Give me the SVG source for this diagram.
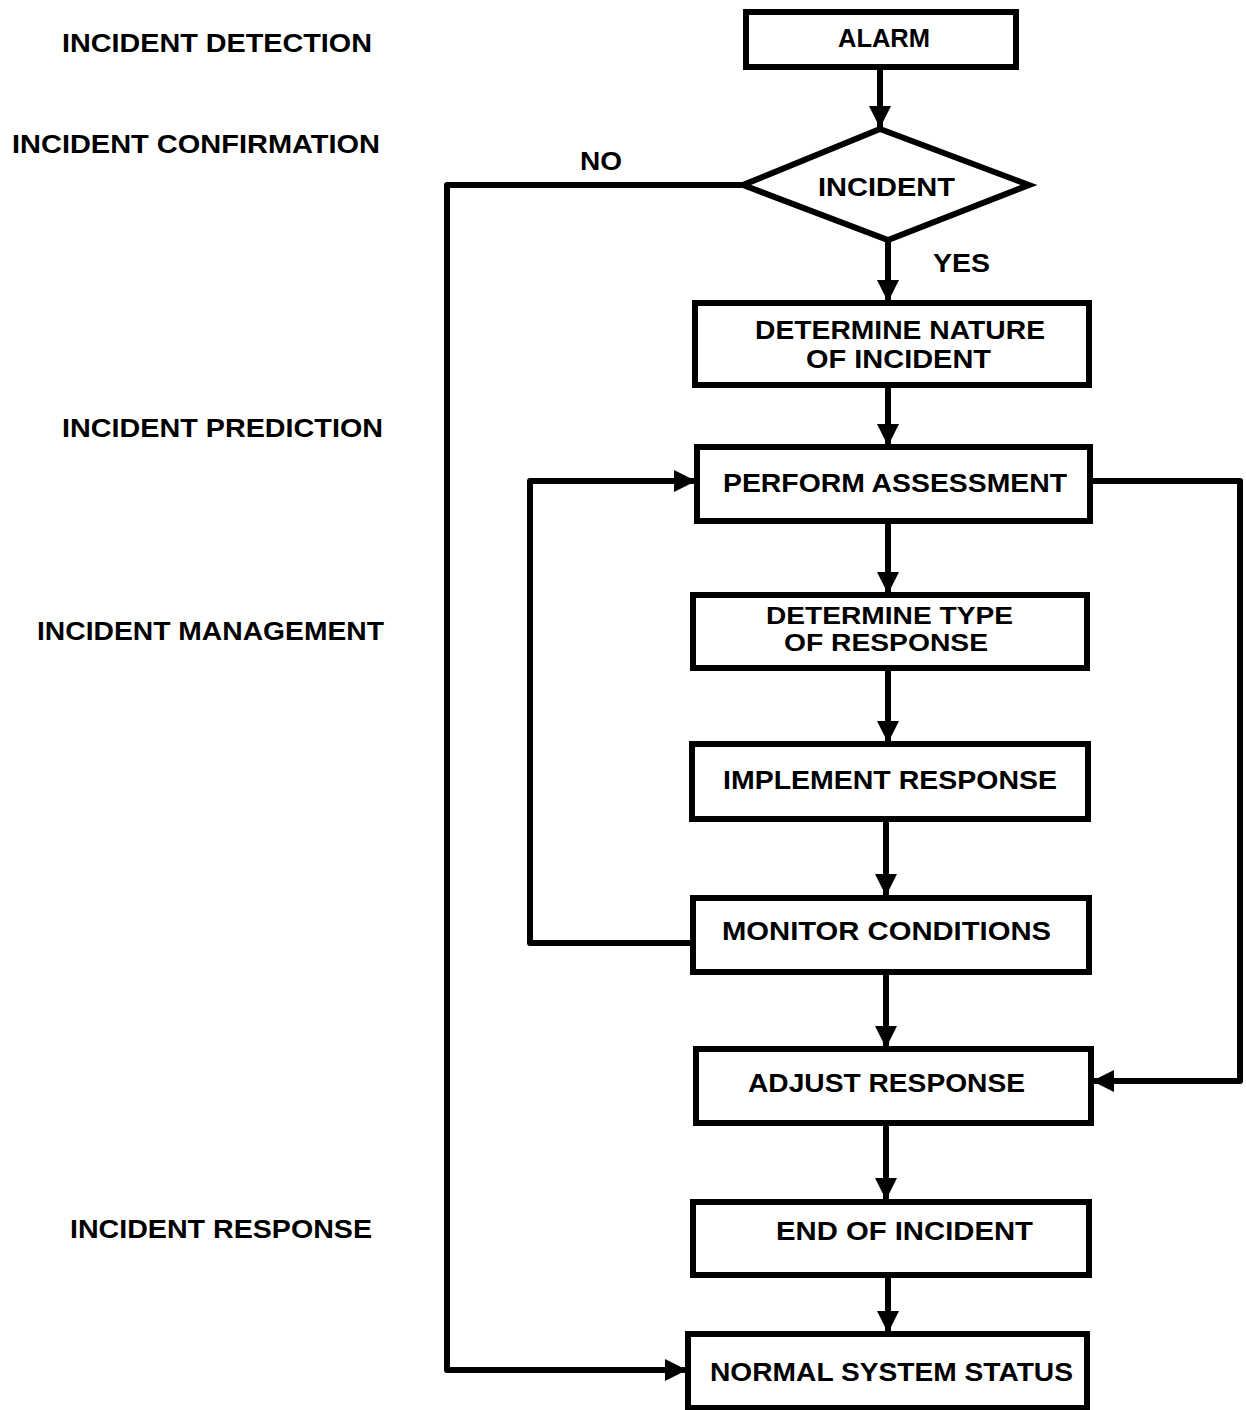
<svg xmlns="http://www.w3.org/2000/svg" width="1246" height="1410" viewBox="0 0 1246 1410">
<style>
text{font-family:"Liberation Sans",Arial,sans-serif;font-weight:bold;font-size:26px;fill:#000}
.sm{font-size:23px}
.box{fill:#fff;stroke:#000;stroke-width:6}
.c{fill:none;stroke:#000;stroke-width:6;stroke-linejoin:round}
</style>
<defs>
<marker id="ah" markerUnits="userSpaceOnUse" viewBox="0 0 22 22" refX="22" refY="11" markerWidth="22" markerHeight="22" orient="auto">
<path d="M0,0 L22,11 L0,22 Z" fill="#000"/>
</marker>
</defs>
<g id="labels">
<text x="62" y="52" textLength="310" lengthAdjust="spacingAndGlyphs">INCIDENT DETECTION</text>
<text x="12" y="153" textLength="368" lengthAdjust="spacingAndGlyphs">INCIDENT CONFIRMATION</text>
<text x="62" y="437" textLength="321" lengthAdjust="spacingAndGlyphs">INCIDENT PREDICTION</text>
<text x="37" y="640" textLength="347" lengthAdjust="spacingAndGlyphs">INCIDENT MANAGEMENT</text>
<text x="70" y="1238" textLength="302" lengthAdjust="spacingAndGlyphs">INCIDENT RESPONSE</text>
<text x="580" y="170" textLength="42" lengthAdjust="spacingAndGlyphs">NO</text>
<text x="933" y="272" textLength="57" lengthAdjust="spacingAndGlyphs">YES</text>
</g>
<g id="connectors">
<line class="c" x1="880" y1="67" x2="880" y2="128" marker-end="url(#ah)"/>
<line class="c" x1="888" y1="240" x2="888" y2="302" marker-end="url(#ah)"/>
<line class="c" x1="888" y1="385" x2="888" y2="446" marker-end="url(#ah)"/>
<line class="c" x1="888" y1="521" x2="888" y2="594" marker-end="url(#ah)"/>
<line class="c" x1="888" y1="668" x2="888" y2="743" marker-end="url(#ah)"/>
<line class="c" x1="886" y1="819" x2="886" y2="896" marker-end="url(#ah)"/>
<line class="c" x1="886" y1="972" x2="886" y2="1048" marker-end="url(#ah)"/>
<line class="c" x1="886" y1="1123" x2="886" y2="1200" marker-end="url(#ah)"/>
<line class="c" x1="888" y1="1275" x2="888" y2="1333" marker-end="url(#ah)"/>
<polyline class="c" points="742,185 447,185 447,1370 687,1370" marker-end="url(#ah)"/>
<polyline class="c" points="693,943 530,943 530,481 696,481" marker-end="url(#ah)"/>
<polyline class="c" points="1090,481 1240,481 1240,1081 1092,1081" marker-end="url(#ah)"/>
</g>
<g id="alarm"><rect class="box" x="746" y="12" width="270" height="55"/><text x="838" y="47" textLength="92" lengthAdjust="spacingAndGlyphs">ALARM</text></g>
<g id="incident"><polygon class="box" points="880,129 1029,185 888,240 743,185"/><text x="818" y="196" textLength="137" lengthAdjust="spacingAndGlyphs">INCIDENT</text></g>
<g id="nature"><rect class="box" x="695" y="303" width="394" height="82"/><text x="755" y="339" textLength="290" lengthAdjust="spacingAndGlyphs">DETERMINE NATURE</text><text x="806" y="368" textLength="185" lengthAdjust="spacingAndGlyphs">OF INCIDENT</text></g>
<g id="assess"><rect class="box" x="697" y="447" width="393" height="74"/><text x="723" y="492" textLength="344" lengthAdjust="spacingAndGlyphs">PERFORM ASSESSMENT</text></g>
<g id="type"><rect class="box" x="693" y="595" width="394" height="73"/><text class="sm" x="766" y="624" textLength="247" lengthAdjust="spacingAndGlyphs">DETERMINE TYPE</text><text class="sm" x="784" y="651" textLength="204" lengthAdjust="spacingAndGlyphs">OF RESPONSE</text></g>
<g id="implement"><rect class="box" x="692" y="744" width="396" height="75"/><text x="723" y="789" textLength="334" lengthAdjust="spacingAndGlyphs">IMPLEMENT RESPONSE</text></g>
<g id="monitor"><rect class="box" x="693" y="898" width="396" height="74"/><text x="722" y="940" textLength="329" lengthAdjust="spacingAndGlyphs">MONITOR CONDITIONS</text></g>
<g id="adjust"><rect class="box" x="696" y="1049" width="395" height="74"/><text x="748" y="1092" textLength="277" lengthAdjust="spacingAndGlyphs">ADJUST RESPONSE</text></g>
<g id="end"><rect class="box" x="693" y="1202" width="396" height="73"/><text x="776" y="1240" textLength="257" lengthAdjust="spacingAndGlyphs">END OF INCIDENT</text></g>
<g id="normal"><rect class="box" x="688" y="1334" width="399" height="74"/><text x="710" y="1381" textLength="363" lengthAdjust="spacingAndGlyphs">NORMAL SYSTEM STATUS</text></g>
</svg>
